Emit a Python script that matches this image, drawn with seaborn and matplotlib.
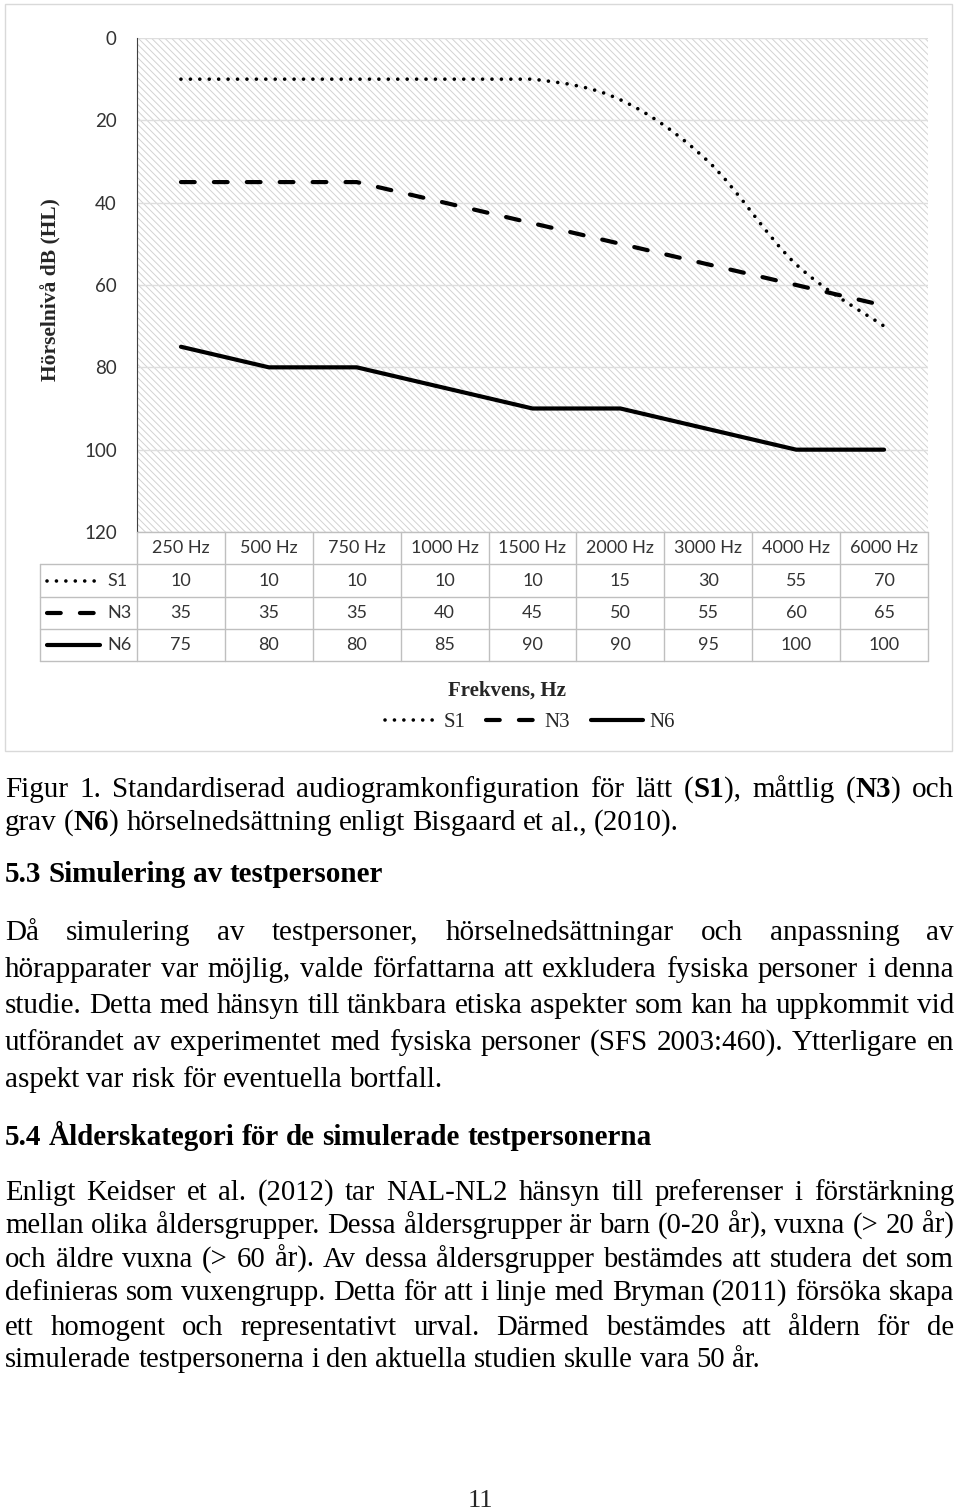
import matplotlib
matplotlib.use('Agg')
import matplotlib.pyplot as plt
import numpy as np
import pandas as pd
import seaborn as sns
from matplotlib.font_manager import FontProperties
from matplotlib.lines import Line2D
from matplotlib.patches import PathPatch, Rectangle
from matplotlib.path import Path
from matplotlib.ticker import MultipleLocator

W, H = 960, 1509

FREQS = ['250 Hz', '500 Hz', '750 Hz', '1000 Hz', '1500 Hz',
         '2000 Hz', '3000 Hz', '4000 Hz', '6000 Hz']
S1 = [10, 10, 10, 10, 10, 15, 30, 55, 70]
N3 = [35, 35, 35, 40, 45, 50, 55, 60, 65]
N6 = [75, 80, 80, 85, 90, 90, 95, 100, 100]
SERIES = {'S1': S1, 'N3': N3, 'N6': N6}
Y_TICKS = [0, 20, 40, 60, 80, 100, 120]
Y_LABEL = 'Hörselnivå dB (HL)'
X_LABEL = 'Frekvens, Hz'

CAPTION = ['Figur 1. Standardiserad audiogramkonfiguration för lätt (*S1*), måttlig (*N3*) och',
           'grav (*N6*) hörselnedsättning enligt Bisgaard et al., (2010).']
HEAD_1 = '5.3 Simulering av testpersoner'
PARA_1 = ['Då simulering av testpersoner, hörselnedsättningar och anpassning av',
          'hörapparater var möjlig, valde författarna att exkludera fysiska personer i denna',
          'studie. Detta med hänsyn till tänkbara etiska aspekter som kan ha uppkommit vid',
          'utförandet av experimentet med fysiska personer (SFS 2003:460). Ytterligare en',
          'aspekt var risk för eventuella bortfall.']
HEAD_2 = '5.4 Ålderskategori för de simulerade testpersonerna'
PARA_2 = ['Enligt Keidser et al. (2012) tar NAL-NL2 hänsyn till preferenser i förstärkning',
          'mellan olika åldersgrupper. Dessa åldersgrupper är barn (0-20 år), vuxna (> 20 år)',
          'och äldre vuxna (> 60 år). Av dessa åldersgrupper bestämdes att studera det som',
          'definieras som vuxengrupp. Detta för att i linje med Bryman (2011) försöka skapa',
          'ett homogent och representativt urval. Därmed bestämdes att åldern för de',
          'simulerade testpersonerna i den aktuella studien skulle vara 50 år.']
PAGE_NO = '11'

# linewidth (pt) and dash pattern per series, '' = solid
LINE_STYLE = {'S1': (2.6, (0.01, 2.6)), 'N3': (3.0, (3.3, 4.6)), 'N6': (3.0, '')}

SERIF = 'Liberation Serif'
INK = '#404040'


def style_kw(name):
    lw, d = LINE_STYLE[name]
    ls = '-' if d == '' else (0, d)
    return dict(color='black', linewidth=lw, linestyle=ls,
                dash_capstyle='round', solid_capstyle='round')


def fx(x):
    return x / W


def fy(y):
    return 1 - y / H


sns.set_style('white')
plt.rcParams['font.family'] = ['Lato', 'DejaVu Sans']
plt.rcParams['hatch.linewidth'] = 0.7

fig = plt.figure(figsize=(W / 100, H / 100), dpi=100)
ax = fig.add_axes([fx(137), fy(532), (928 - 137) / W, (532 - 38) / H])

# hatched plot area
ax.patch.set_facecolor('white')
ax.patch.set_edgecolor('#d2d2d2')
ax.patch.set_linewidth(0)
ax.patch.set_hatch('\\\\\\\\\\')

df = pd.DataFrame({
    'freq': FREQS * 2,
    'level': N3 + N6,
    'series': ['N3'] * len(N3) + ['N6'] * len(N6),
})
sns.lineplot(data=df, x='freq', y='level', style='series',
             dashes={'N3': LINE_STYLE['N3'][1], 'N6': ''},
             color='black', linewidth=3, legend=False, sort=False,
             dash_capstyle='round', solid_capstyle='round', ax=ax, zorder=3)

# S1 drawn as a smoothed bezier through its points (flat runs kept flat)
pts = np.column_stack([np.arange(len(S1)), S1]).astype(float)
n = len(pts)
verts, codes = [pts[0]], [Path.MOVETO]
for i in range(n - 1):
    p0, p1 = pts[max(i - 1, 0)], pts[i]
    p2, p3 = pts[i + 1], pts[min(i + 2, n - 1)]
    c1, c2 = p1 + (p2 - p0) / 6, p2 - (p3 - p1) / 6
    if p1[1] == p2[1]:
        c1[1] = c2[1] = p1[1]
    verts += [c1, c2, p2]
    codes += [Path.CURVE4] * 3
lw, d = LINE_STYLE['S1']
ax.add_patch(PathPatch(Path(verts, codes), fill=False, edgecolor='black',
                       linewidth=lw, linestyle=(0, d), capstyle='round', zorder=3))

ax.set_xlim(-0.5, len(FREQS) - 0.5)
ax.set_ylim(120, 0)
ax.set_xticks([])
ax.set_yticks(Y_TICKS)
ax.yaxis.set_minor_locator(MultipleLocator(4))
ax.set_xlabel('')
ax.set_ylabel('')
ax.grid(axis='y', which='major', color='#dedede', linewidth=1)
ax.set_axisbelow(True)
for side in ['top', 'right', 'bottom']:
    ax.spines[side].set_visible(False)
ax.spines['left'].set_color(INK)
ax.tick_params(axis='y', which='both', direction='inout', length=7.5, width=1,
               color=INK, pad=10.8, labelsize=13.5, labelcolor='#333333')

fig.text(fx(51), fy(290), Y_LABEL, rotation=90, ha='center', va='center',
         family=SERIF, weight='bold', size=15.5)

# data table under the plot
GRID = '#bfbfbf'
edges = [ax.transData.transform((e - 0.5, 0))[0] for e in range(len(FREQS) + 1)]
rows = [532, 564, 597, 629, 661]
for xe in edges:
    fig.add_artist(Line2D([fx(xe), fx(xe)], [fy(532), fy(661)], color=GRID, lw=1))
fig.add_artist(Line2D([fx(40), fx(40)], [fy(564), fy(661)], color=GRID, lw=1))
fig.add_artist(Line2D([fx(edges[0]), fx(edges[-1])], [fy(532), fy(532)], color=GRID, lw=1))
for yr in rows[1:]:
    fig.add_artist(Line2D([fx(40), fx(edges[-1])], [fy(yr), fy(yr)], color=GRID, lw=1))

centers = [(a + b) / 2 for a, b in zip(edges[:-1], edges[1:])]
for xc, f in zip(centers, FREQS):
    fig.text(fx(xc), fy(548), f, ha='center', va='center', size=13, color='#333333')
for r, (name, vals) in enumerate(SERIES.items()):
    yc = (rows[r + 1] + rows[r + 2]) / 2
    fig.add_artist(Line2D([fx(47), fx(100)], [fy(yc), fy(yc)], **style_kw(name)))
    fig.text(fx(107), fy(yc), name, ha='left', va='center', size=13, color='#333333')
    for xc, v in zip(centers, vals):
        fig.text(fx(xc), fy(yc), str(v), ha='center', va='center', size=13, color='#333333')

fig.text(fx(507), fy(691), X_LABEL, ha='center', va='center',
         family=SERIF, weight='bold', size=15)
handles = [Line2D([], [], **style_kw(name)) for name in SERIES]
fig.legend(handles, list(SERIES), loc='center', bbox_to_anchor=(fx(530), fy(722)),
           ncol=3, frameon=False, prop=FontProperties(family=SERIF, size=15),
           handlelength=2.5, handletextpad=0.3, columnspacing=1.0,
           borderpad=0, borderaxespad=0)

fig.add_artist(Rectangle((fx(5), fy(751)), 947 / W, 747 / H, transform=fig.transFigure,
                         fill=False, edgecolor='#d9d9d9', lw=1))

# ---- page text -----------------------------------------------------------
renderer = fig.canvas.get_renderer()


def fp_for(size, bold=False):
    return FontProperties(family=SERIF, size=size, weight='bold' if bold else 'normal')


def text_width(s, fp):
    t = fig.text(0, 0, s, fontproperties=fp)
    w = t.get_window_extent(renderer=renderer).width
    t.remove()
    return w


def advance(s, fp):
    return text_width('H' + s + 'H', fp) - text_width('HH', fp)


def split_words(line):
    return [[(p, i % 2 == 1) for i, p in enumerate(w.split('*')) if p]
            for w in line.split(' ')]


def natural_width(line, size, bold=False):
    words = split_words(line)
    segs = sum(advance(s, fp_for(size, b or bold)) for w in words for s, b in w)
    return segs + advance(' ', fp_for(size, bold)) * (len(words) - 1)


def fit_size(lines, base, x0=5, x1=954):
    widest = max(natural_width(l, base) for l in lines)
    return min(base, base * (x1 - x0) / widest * 0.995)


def draw_line(line, y, size, justify=False, bold=False, x0=5, x1=954):
    words = split_words(line)
    widths = [[advance(s, fp_for(size, b or bold)) for s, b in w] for w in words]
    total = sum(map(sum, widths))
    gap = advance(' ', fp_for(size, bold))
    if justify and len(words) > 1:
        gap = (x1 - x0 - total) / (len(words) - 1)
    x = x0
    for w, ws in zip(words, widths):
        for (s, b), sw in zip(w, ws):
            fig.text(fx(x), fy(y), s, fontproperties=fp_for(size, b or bold),
                     ha='left', va='baseline', color='black')
            x += sw
        x += gap


def draw_para(lines, ys, base):
    size = fit_size(lines[:-1], base)
    for i, (line, y) in enumerate(zip(lines, ys)):
        draw_line(line, y, size, justify=i < len(lines) - 1)


draw_para(CAPTION, [797, 830], 21)
draw_line(HEAD_1, 882, 21, bold=True)
draw_para(PARA_1, [940, 977, 1013, 1050, 1087], 21)
draw_line(HEAD_2, 1145, 21, bold=True)
draw_para(PARA_2, [1200, 1233, 1267, 1300, 1335, 1367], 21)
fig.text(fx(480), fy(1507), PAGE_NO, ha='center', va='baseline', family=SERIF, size=19)

fig.savefig('out.png', dpi=100)
